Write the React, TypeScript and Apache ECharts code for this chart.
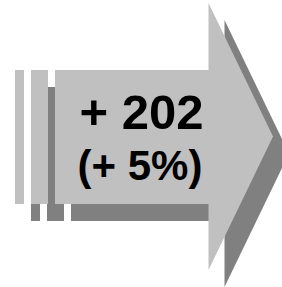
import React, { useEffect, useRef } from "react";
import * as echarts from "echarts";

// Values shown on the arrow
const deltaValue = [202];
const deltaPercent = [5];
const labels = ["+ " + deltaValue[0], "(+ " + deltaPercent[0] + "%)"];

const LIGHT = "#c0c0c0";
const DARK = "#808080";

export default function App() {
  const ref = useRef<HTMLDivElement>(null);
  useEffect(() => {
    if (!ref.current) return;
    const chart = echarts.init(ref.current, undefined, { renderer: "svg" });
    const dx = 16;
    const dy = 17;
    const strips = [
      [15, 70, 9, 134],
      [31, 70, 17, 134],
      [55, 70, 154, 134],
    ];
    const head = [
      [208.5, 3],
      [273, 136.5],
      [208.5, 270],
    ];
    const elements: any[] = [];
    strips.forEach(([x, y, w, h]) => {
      elements.push({ type: "rect", shape: { x: x + dx, y: y + dy, width: w, height: h }, style: { fill: DARK } });
    });
    elements.push({
      type: "polygon",
      shape: { points: head.map(([x, y]) => [x + dx, y + dy]) },
      style: { fill: DARK },
    });
    strips.forEach(([x, y, w, h]) => {
      elements.push({ type: "rect", shape: { x, y, width: w, height: h }, style: { fill: LIGHT } });
    });
    elements.push({ type: "polygon", shape: { points: head }, style: { fill: LIGHT } });
    elements.push({
      type: "text",
      x: 141.5,
      y: 112,
      style: {
        text: labels[0],
        fill: "#000",
        font: "bold 49px Arial, 'Liberation Sans', sans-serif",
        textAlign: "center",
        textVerticalAlign: "middle",
      },
    });
    elements.push({
      type: "text",
      x: 140,
      y: 165,
      style: {
        text: labels[1],
        fill: "#000",
        font: "bold 42px Arial, 'Liberation Sans', sans-serif",
        textAlign: "center",
        textVerticalAlign: "middle",
      },
    });
    chart.setOption({ animation: false, graphic: { elements } });
    return () => chart.dispose();
  }, []);
  return (
    <div
      ref={ref}
      style={{ position: "fixed", left: 0, top: 0, width: 282, height: 287, background: "#fff" }}
    />
  );
}
